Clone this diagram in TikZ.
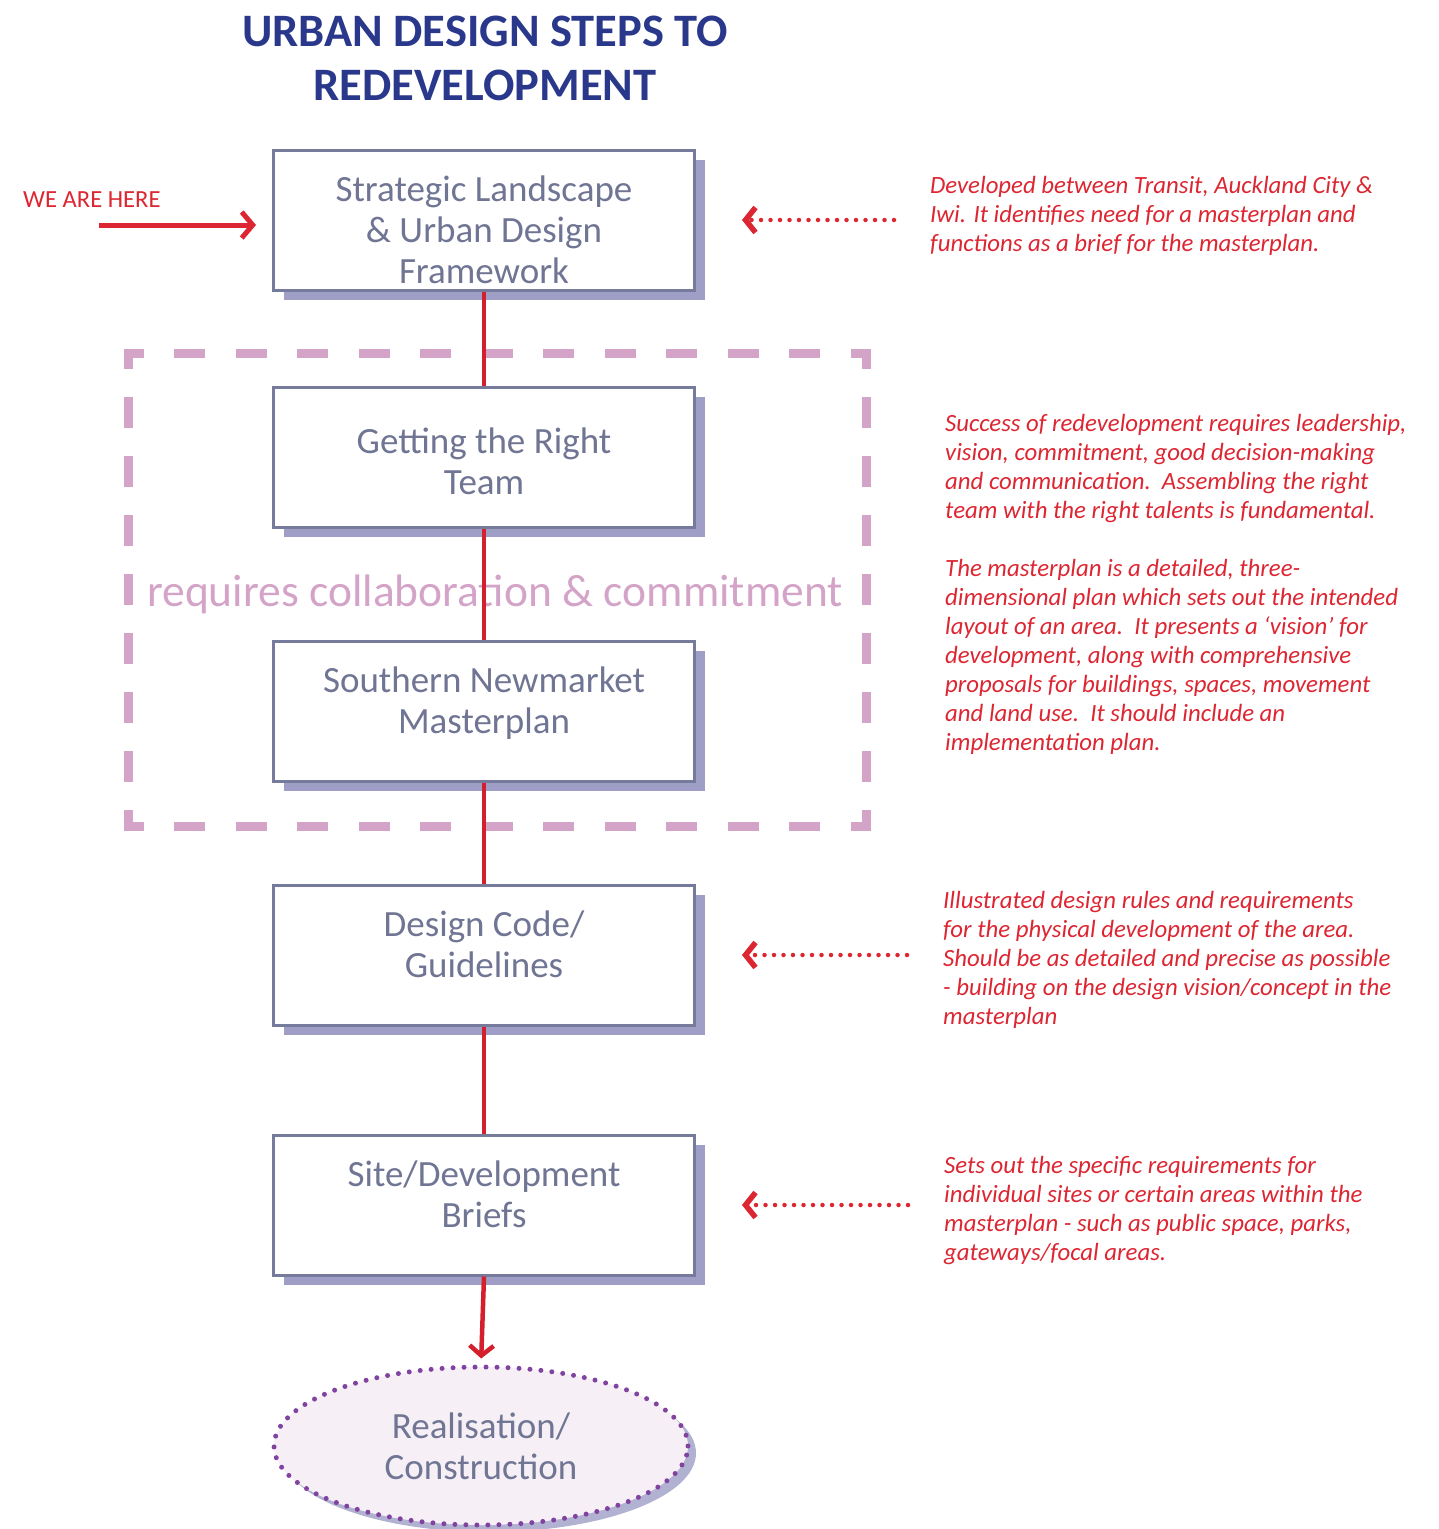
\documentclass[tikz,border=0pt]{standalone}
\usepackage{fontspec}
\setmainfont{Carlito}
\usetikzlibrary{shapes.geometric, shadows, arrows.meta}

\definecolor{titleblue}{RGB}{42,56,140}
\definecolor{boxline}{RGB}{118,123,155}
\definecolor{boxtext}{RGB}{112,117,148}
\definecolor{boxshade}{RGB}{158,158,198}
\definecolor{notered}{RGB}{220,38,50}
\definecolor{linkred}{RGB}{212,32,44}
\definecolor{teampink}{RGB}{212,164,200}
\definecolor{dotpurple}{RGB}{128,68,160}
\definecolor{ovalfill}{RGB}{246,240,246}

\begin{document}
\begin{tikzpicture}[x=1pt, y=-1pt,
  stepbox/.style={draw=boxline, line width=3pt, fill=white, minimum width=421pt,
    minimum height=140pt, inner sep=0pt, align=center, text=boxtext,
    font=\fontsize{37}{41}\selectfont,
    drop shadow={shadow xshift=10pt, shadow yshift=-10pt, fill=boxshade, opacity=1}},
  textbase/.style={text height=#1, text depth=0pt},
  oval/.style={ellipse, draw=dotpurple, fill=ovalfill, line width=5pt,
    dash pattern=on 0pt off 11pt, line cap=round, minimum width=414pt,
    minimum height=158pt, inner sep=0pt, align=center, text=boxtext,
    font=\fontsize{37}{41}\selectfont,
    drop shadow={shadow xshift=8pt, shadow yshift=-7pt, fill=boxshade, opacity=.8}},
  note/.style={anchor=west, inner sep=0pt, align=left, text=notered,
    font=\fontsize{24.8}{29}\selectfont\itshape},
  frameline/.style={teampink, line width=9pt, line cap=rect, dash phase=11pt},
  link/.style={draw=linkred, line width=4.5pt},
  pointer/.style={draw=notered, line width=4.5pt, dash pattern=on 0pt off 9.5pt,
    line cap=round, -{Straight Barb[length=10pt, width=25pt, line width=5.5pt]},
    shorten >=46pt, shorten <=36pt}]
  \useasboundingbox (0,0) rectangle (1439,1529);
  % Title
  \node[text=titleblue, font=\fontsize{46.5}{54}\bfseries, align=center] (title) at (485,58)
    {URBAN DESIGN STEPS TO\\REDEVELOPMENT};
  % Collaboration frame
  \draw[frameline, dash pattern=on 22pt off 39.5pt]
    (128,353) -- (866,353) (128,826) -- (866,826);
  \draw[frameline, dash pattern=on 22pt off 37.1pt]
    (128,353) -- (128,826) (866,353) -- (866,826);
  \node[text=teampink, font=\fontsize{45.5}{50}\selectfont] (collab) at (495,594)
    {requires collaboration \& commitment};
  % Steps
  \node[stepbox, textbase=126pt] (frame) at (484,220) {Strategic Landscape\\\& Urban Design\\Framework};
  \node[stepbox, textbase=74pt] (team) at (484,457) {Getting the Right\\Team};
  \node[stepbox, textbase=44pt] (plan) at (484,711) {Southern Newmarket\\Masterplan};
  \node[stepbox, textbase=44pt] (code) at (484,955) {Design Code/\\Guidelines};
  \node[stepbox, textbase=44pt] (briefs) at (484,1205) {Site/Development\\Briefs};
  \node[oval] (built) at (481,1446) {Realisation/\\Construction};
  % Links between steps
  \draw[link] (frame.south) -- (team.north);
  \draw[link] (team.south) -- (plan.north);
  \draw[link] (plan.south) -- (code.north);
  \draw[link] (code.south) -- (briefs.north);
  \draw[link, -{Straight Barb[length=10pt, width=24pt]}, shorten >=6pt]
    (briefs.south) -- (built.north);
  % We are here
  \node[anchor=west, inner sep=0pt, text=notered, font=\fontsize{24.6}{28}\selectfont]
    (here) at (23,200) {WE ARE HERE};
  \coordinate (heretail) at (99,225);
  \draw[notered, line width=5pt, -{Straight Barb[length=11pt, width=26pt]}, shorten >=16pt]
    (heretail) -- (heretail -| frame.west);
  % Notes
  \node[note] (note1) at (930,216) {Developed between Transit, Auckland City \&\\
    Iwi. It identifies need for a masterplan and\\
    functions as a brief for the masterplan.};
  \node[note] (note2) at (945,584) {Success of redevelopment requires leadership,\\
    vision, commitment, good decision-making\\
    and communication.\ \ Assembling the right\\
    team with the right talents is fundamental.\\[29pt]
    The masterplan is a detailed, three-\\
    dimensional plan which sets out the intended\\
    layout of an area.\ \ It presents a ‘vision’ for\\
    development, along with comprehensive\\
    proposals for buildings, spaces, movement\\
    and land use.\ \ It should include an\\
    implementation plan.};
  \node[note] (note3) at (943,960) {Illustrated design rules and requirements\\
    for the physical development of the area.\\
    Should be as detailed and precise as possible\\
    - building on the design vision/concept in the\\
    masterplan};
  \node[note] (note4) at (944,1210) {Sets out the specific requirements for\\
    individual sites or certain areas within the\\
    masterplan - such as public space, parks,\\
    gateways/focal areas.};
  % Pointers
  \draw[pointer] (frame.east -| note1.west) -- (frame.east);
  \draw[pointer] (code.east -| note3.west) -- (code.east);
  \draw[pointer] (briefs.east -| note4.west) -- (briefs.east);
\end{tikzpicture}
\end{document}
